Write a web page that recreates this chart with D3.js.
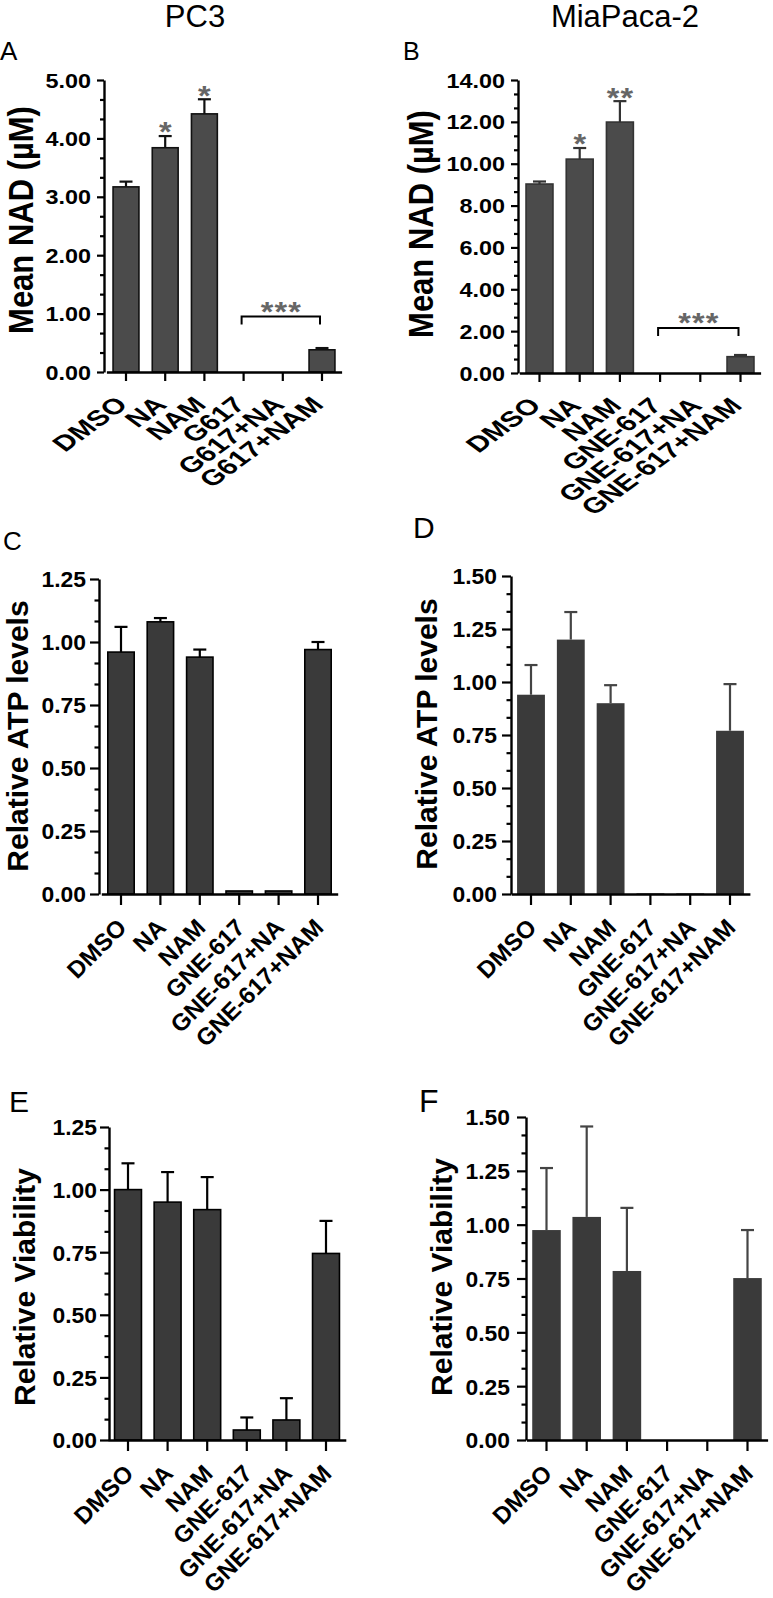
<!DOCTYPE html>
<html>
<head>
<meta charset="utf-8">
<script src="https://cdn.jsdelivr.net/npm/d3@7"></script>
<style>
  body { margin: 0; background: #fff; }
  svg { display: block; }
</style>
</head>
<body>
<script>
// categories
const catsG617 = ["DMSO", "NA", "NAM", "G617", "G617+NA", "G617+NAM"];
const catsGNE = ["DMSO", "NA", "NAM", "GNE-617", "GNE-617+NA", "GNE-617+NAM"];

// A: PC3 mean NAD (uM)
const nadPC3 = [3.17, 3.84, 4.42, 0, 0, 0.38];
const nadPC3Err = [0.09, 0.20, 0.25, 0, 0, 0.03];
const nadPC3Sig = ["", "*", "*", "", "", ""];

// B: MiaPaca-2 mean NAD (uM)
const nadMia = [9.03, 10.22, 11.99, 0, 0, 0.78];
const nadMiaErr = [0.12, 0.53, 1.0, 0, 0, 0.08];
const nadMiaSig = ["", "*", "**", "", "", ""];

// C / D: relative ATP levels
const atpPC3 = [0.96, 1.08, 0.94, 0.012, 0.012, 0.97];
const atpPC3Err = [0.10, 0.015, 0.03, 0, 0, 0.03];
const atpMia = [0.94, 1.20, 0.90, 0.003, 0.003, 0.77];
const atpMiaErr = [0.14, 0.13, 0.085, 0, 0, 0.22];

// E / F: relative viability
const viaPC3 = [1.00, 0.95, 0.92, 0.04, 0.08, 0.745];
const viaPC3Err = [0.105, 0.12, 0.13, 0.05, 0.087, 0.13];
const viaMia = [0.975, 1.036, 0.785, 0, 0, 0.752];
const viaMiaErr = [0.288, 0.42, 0.293, 0, 0, 0.223];

// tick labels
const ticksNadPC3 = [0, 1, 2, 3, 4, 5];
const ticksNadMia = [0, 2, 4, 6, 8, 10, 12, 14];
const ticks125 = [0, 0.25, 0.5, 0.75, 1.0, 1.25];
const ticks150 = [0, 0.25, 0.5, 0.75, 1.0, 1.25, 1.5];

const FONT = "'Liberation Sans', Arial, Helvetica, sans-serif";

const svg = d3.select("body").append("svg")
    .attr("width", 773)
    .attr("height", 1598)
    .style("font-family", FONT);

svg.append("rect").attr("width", 773).attr("height", 1598).attr("fill", "#fff");

// column titles
svg.append("text").attr("x", 195).attr("y", 27).attr("text-anchor", "middle")
    .style("font-size", "31px").text("PC3");
svg.append("text").attr("x", 625).attr("y", 27).attr("text-anchor", "middle")
    .style("font-size", "31px").text("MiaPaca-2");

// minor ticks: two between each pair of labelled ticks
function minorTicks(ticks) {
    const out = [];
    for (let i = 0; i < ticks.length - 1; i++) {
        const a = ticks[i], b = ticks[i + 1];
        out.push(a + (b - a) / 3, a + 2 * (b - a) / 3);
    }
    return out;
}

function drawPanel(cfg) {
    const g = svg.append("g");

    const y = d3.scaleLinear()
        .domain([0, d3.max(cfg.ticks)])
        .range([cfg.y0, cfg.yTop]);

    const x = d3.scaleBand()
        .domain(cfg.cats)
        .range([cfg.c0 - cfg.step / 2, cfg.c0 + (cfg.cats.length - 0.5) * cfg.step])
        .paddingInner(cfg.pad)
        .paddingOuter(cfg.pad / 2);

    const rows = cfg.cats.map((c, i) => ({cat: c, v: cfg.values[i], e: cfg.errs[i], s: cfg.sig ? cfg.sig[i] : ""}));

    // bars
    g.selectAll("rect.bar")
        .data(rows.filter(d => d.v > 0))
        .join("rect")
        .attr("class", "bar")
        .attr("x", d => x(d.cat))
        .attr("width", x.bandwidth())
        .attr("y", d => y(d.v))
        .attr("height", d => y(0) - y(d.v))
        .attr("fill", cfg.fill)
        .attr("stroke", cfg.stroke)
        .attr("stroke-width", cfg.stroke === "none" ? 0 : 1.6);

    // error bars (upper only)
    const eb = g.selectAll("g.err")
        .data(rows.filter(d => d.e > 0))
        .join("g")
        .attr("class", "err")
        .attr("stroke", cfg.errColor)
        .attr("stroke-width", 2.2);
    eb.append("line")
        .attr("x1", d => x(d.cat) + x.bandwidth() / 2)
        .attr("x2", d => x(d.cat) + x.bandwidth() / 2)
        .attr("y1", d => y(d.v))
        .attr("y2", d => y(d.v + d.e));
    eb.append("line")
        .attr("x1", d => x(d.cat) + x.bandwidth() / 2 - 6.5)
        .attr("x2", d => x(d.cat) + x.bandwidth() / 2 + 6.5)
        .attr("y1", d => y(d.v + d.e))
        .attr("y2", d => y(d.v + d.e));

    // y axis minor ticks
    g.append("g")
        .attr("transform", `translate(${cfg.axisX},0)`)
        .call(d3.axisLeft(y).tickValues(minorTicks(cfg.ticks)).tickSize(cfg.minorLen).tickFormat(() => ""))
        .call(a => a.select(".domain").remove())
        .call(a => a.selectAll("line").attr("stroke", "#000").attr("stroke-width", 2.2));

    // y axis
    g.append("g")
        .attr("transform", `translate(${cfg.axisX},0)`)
        .call(d3.axisLeft(y).tickValues(cfg.ticks).tickFormat(d3.format(".2f"))
            .tickSize(cfg.majorLen).tickSizeOuter(0))
        .call(a => a.select(".domain").attr("stroke", "#000").attr("stroke-width", 2.4))
        .call(a => a.selectAll(".tick line").attr("stroke", "#000").attr("stroke-width", 2.2))
        .call(a => a.selectAll(".tick text")
            .attr("x", 0)
            .attr("dy", "0.36em")
            .attr("transform", `translate(${-(cfg.majorLen + cfg.tickPad)},0) scale(${cfg.tickStretch},1)`)
            .attr("fill", "#000")
            .style("font-family", FONT)
            .style("font-size", cfg.tickFont + "px")
            .style("font-weight", "bold"));

    // x axis
    g.append("g")
        .attr("transform", `translate(0,${cfg.y0})`)
        .call(d3.axisBottom(x).tickSize(cfg.xTickLen).tickSizeOuter(0))
        .call(a => a.select(".domain").attr("stroke", "#000").attr("stroke-width", 2.4))
        .call(a => a.selectAll(".tick line").attr("stroke", "#000").attr("stroke-width", 2.2))
        .call(a => a.selectAll(".tick text")
            .attr("x", 0)
            .attr("y", 0)
            .attr("dy", null)
            .attr("text-anchor", "end")
            .attr("transform", `translate(${cfg.xlDx},${cfg.xlDy}) scale(${cfg.xStretch},1) rotate(-45)`)
            .attr("fill", "#000")
            .style("font-family", FONT)
            .style("font-size", cfg.xFont + "px")
            .style("font-weight", "bold"));

    // y axis title
    g.append("text")
        .attr("text-anchor", "middle")
        .attr("transform", `translate(${cfg.yLabelX},${cfg.yLabelY}) scale(${cfg.yLabelStretch},1) rotate(-90)`)
        .style("font-size", cfg.yLabelFont + "px")
        .style("font-weight", "bold")
        .text(cfg.yLabel);

    // panel letter
    g.append("text")
        .attr("x", cfg.letterX)
        .attr("y", cfg.letterY)
        .style("font-size", cfg.letterFont + "px")
        .text(cfg.letter);

    // significance marks
    const starFs = 27, ls = 1;
    g.selectAll("text.sig")
        .data(rows.filter(d => d.s))
        .join("text")
        .attr("class", "sig")
        .attr("text-anchor", "middle")
        .attr("x", ls / 2)
        .attr("transform", d => `translate(${x(d.cat) + x.bandwidth() / 2},${y(d.v + d.e) - 10 + 0.57 * starFs}) scale(${cfg.tickStretch},1)`)
        .attr("fill", "#666")
        .style("font-size", starFs + "px")
        .style("font-weight", "bold")
        .style("letter-spacing", ls + "px")
        .text(d => d.s);

    if (cfg.bracket) {
        const b = cfg.bracket;
        const x1 = x(cfg.cats[b.from]) + x.bandwidth() / 2 - 2;
        const x2 = x(cfg.cats[b.to]) + x.bandwidth() / 2 - 2;
        const yb = y(b.level);
        g.append("path")
            .attr("d", `M${x1},${yb + 8}V${yb}H${x2}V${yb + 8}`)
            .attr("fill", "none")
            .attr("stroke", "#000")
            .attr("stroke-width", 2);
        g.append("text")
            .attr("text-anchor", "middle")
            .attr("x", ls / 2)
            .attr("transform", `translate(${(x1 + x2) / 2},${yb - 11 + 0.57 * starFs}) scale(${cfg.tickStretch},1)`)
            .attr("fill", "#666")
            .style("font-size", starFs + "px")
            .style("font-weight", "bold")
            .style("letter-spacing", ls + "px")
            .text(b.label);
    }
}

// shared styles for the two NAD panels (A, B) and the four lower panels
const nadStyle = {
    tickFont: 19.5, tickStretch: 1.2, tickPad: 6, majorLen: 7, minorLen: 4,
    xTickLen: 9, xFont: 22, xStretch: 1.37, xlDx: 3, xlDy: 34,
    yLabelFont: 31, yLabelStretch: 1.15, yLabel: "Mean NAD (µM)"
};
const lowStyle = {
    tickFont: 22, tickStretch: 1.04, tickPad: 4, majorLen: 9, minorLen: 4.5,
    xTickLen: 11, xFont: 24, xStretch: 1.0, xlDx: 7, xlDy: 35,
    yLabelStretch: 1.0, yLabelFont: 30, fill: "#3a3a3a"
};

drawPanel(Object.assign({}, nadStyle, {
    cats: catsG617, values: nadPC3, errs: nadPC3Err, sig: nadPC3Sig, ticks: ticksNadPC3,
    axisX: 104, c0: 126, step: 39.2, pad: 0.34, y0: 372, yTop: 80,
    fill: "#4b4b4b", stroke: "#111", errColor: "#111",
    yLabelX: 33, yLabelY: 220, letter: "A", letterX: 0, letterY: 60, letterFont: 26,
    bracket: {from: 3, to: 5, level: 0.95, label: "***"}
}));

drawPanel(Object.assign({}, nadStyle, {
    cats: catsGNE, values: nadMia, errs: nadMiaErr, sig: nadMiaSig, ticks: ticksNadMia,
    axisX: 518, c0: 539.5, step: 40.2, pad: 0.33, y0: 373, yTop: 80,
    fill: "#4b4b4b", stroke: "#333", errColor: "#333",
    yLabelX: 433, yLabelY: 224, letter: "B", letterX: 403, letterY: 60, letterFont: 25,
    bracket: {from: 3, to: 5, level: 2.15, label: "***"}
}));

drawPanel(Object.assign({}, lowStyle, {
    cats: catsGNE, values: atpPC3, errs: atpPC3Err, ticks: ticks125,
    axisX: 99, c0: 121, step: 39.4, pad: 0.33, y0: 894, yTop: 579,
    stroke: "#000", errColor: "#000",
    yLabel: "Relative ATP levels", yLabelX: 28, yLabelY: 736,
    letter: "C", letterX: 3, letterY: 550, letterFont: 26
}));

drawPanel(Object.assign({}, lowStyle, {
    cats: catsGNE, values: atpMia, errs: atpMiaErr, ticks: ticks150,
    axisX: 511, c0: 531, step: 39.8, pad: 0.3, y0: 894, yTop: 576,
    stroke: "none", errColor: "#444", tickPad: 5,
    yLabel: "Relative ATP levels", yLabelX: 437, yLabelY: 734,
    letter: "D", letterX: 413, letterY: 538, letterFont: 30
}));

drawPanel(Object.assign({}, lowStyle, {
    cats: catsGNE, values: viaPC3, errs: viaPC3Err, ticks: ticks125,
    axisX: 109, c0: 128, step: 39.6, pad: 0.32, y0: 1440, yTop: 1127,
    stroke: "#000", errColor: "#000", tickPad: 3,
    yLabel: "Relative Viability", yLabelX: 35, yLabelY: 1287,
    letter: "E", letterX: 9, letterY: 1112, letterFont: 30
}));

drawPanel(Object.assign({}, lowStyle, {
    cats: catsGNE, values: viaMia, errs: viaMiaErr, ticks: ticks150,
    axisX: 526, c0: 546.5, step: 40.2, pad: 0.29, y0: 1440, yTop: 1117,
    stroke: "none", errColor: "#444", tickPad: 7,
    yLabel: "Relative Viability", yLabelX: 452, yLabelY: 1277,
    letter: "F", letterX: 419, letterY: 1112, letterFont: 32
}));
</script>
</body>
</html>
